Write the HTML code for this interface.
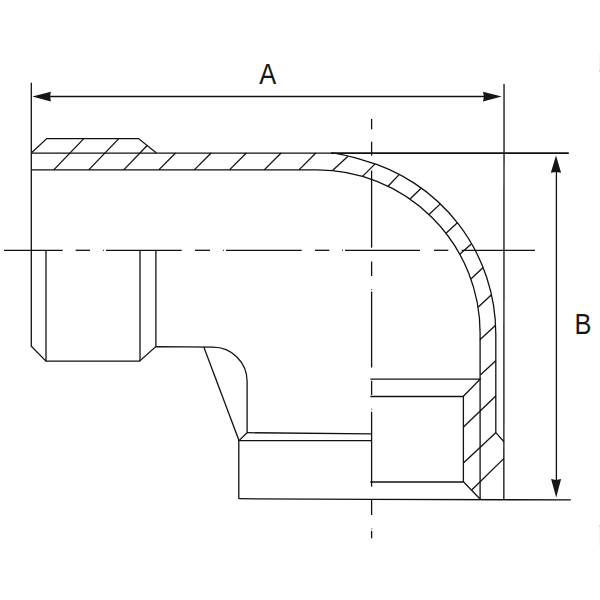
<!DOCTYPE html>
<html><head><meta charset="utf-8"><title>Elbow dimensions</title>
<style>
html,body{margin:0;padding:0;background:#fff;}
body{width:600px;height:600px;overflow:hidden;}
svg{display:block}
svg line, svg path{stroke:#111;stroke-width:1.3;fill:none;stroke-linecap:butt;stroke-linejoin:miter}
svg .thick{stroke-width:1.9}
svg .ar{fill:#161616;stroke:none}
svg text{font-family:"Liberation Sans",sans-serif;font-size:29.2px;fill:#161616}
</style></head><body>
<svg width="600" height="600" viewBox="0 0 600 600">
<rect width="600" height="600" fill="#fff" stroke="none"/>
<path d="M31.3,82.7 V346.2 L46,361.2 H139.5 L155.9,346.6 L213,347.2 A34.1,34.1 0 0 1 247.1,381.3 V432.7 L239,440.6"/>
<line x1="46.00" y1="250.30" x2="46.00" y2="361.20"/>
<line x1="140.00" y1="250.30" x2="140.00" y2="361.20"/>
<line x1="155.90" y1="250.30" x2="155.90" y2="346.60"/>
<line x1="203.80" y1="347.10" x2="239.00" y2="440.60"/>
<path d="M247,432.7 L371.6,433.8"/>
<path d="M371.6,440.7 H238.8 V498.7"/>
<path d="M31.3,153.05 L46.75,138.6 H138.5 L156.5,153.05"/>
<path d="M31.3,153.05 H331 C341,153.05 351.66,157.10 362,159.85 A180.1,180.1 0 0 1 495.79999999999995,333.9 V432.6 L504,441.8"/>
<path d="M31.3,169.90000000000003 H316.9 A163.2,163.2 0 0 1 480.09999999999997,333.1 V499.3"/>
<path d="M370.3,379.2 H480.09999999999997 L463.4,396.3"/>
<path d="M370.3,396.5 H463.4 V481.8 L480.5,499.5"/>
<line x1="370.30" y1="482.00" x2="463.40" y2="482.00"/>
<path d="M504.05,84 L503.85,499.8"/>
<line x1="331.00" y1="153.10" x2="568.80" y2="153.10" class="thick"/>
<path d="M238.8,498.7 L372,499.4 L570.8,499.9"/>
<line x1="40.00" y1="96.50" x2="495.00" y2="96.50"/>
<line x1="556.40" y1="165.00" x2="556.40" y2="485.00"/>
<line x1="53.75" y1="169.90" x2="83.80" y2="138.60"/>
<line x1="88.75" y1="169.90" x2="118.80" y2="138.60"/>
<line x1="123.75" y1="169.90" x2="147.14" y2="145.54"/>
<line x1="158.75" y1="169.90" x2="175.60" y2="153.05"/>
<line x1="194.30" y1="169.90" x2="211.15" y2="153.05"/>
<line x1="229.50" y1="169.90" x2="246.35" y2="153.05"/>
<line x1="264.25" y1="169.90" x2="281.10" y2="153.05"/>
<line x1="299.00" y1="169.90" x2="315.85" y2="153.05"/>
<line x1="332.50" y1="170.50" x2="348.00" y2="156.25"/>
<line x1="362.47" y1="176.39" x2="375.11" y2="163.88"/>
<line x1="388.09" y1="186.24" x2="399.35" y2="174.41"/>
<line x1="409.97" y1="199.04" x2="421.39" y2="188.07"/>
<line x1="429.00" y1="214.49" x2="440.32" y2="203.88"/>
<line x1="446.00" y1="233.27" x2="457.39" y2="222.73"/>
<line x1="459.77" y1="254.21" x2="471.61" y2="243.74"/>
<line x1="470.90" y1="279.09" x2="483.08" y2="267.43"/>
<line x1="478.04" y1="307.23" x2="491.47" y2="294.66"/>
<line x1="479.90" y1="339.70" x2="495.60" y2="325.31"/>
<line x1="480.30" y1="375.00" x2="496.00" y2="360.60"/>
<line x1="463.50" y1="427.00" x2="496.00" y2="395.80"/>
<line x1="463.40" y1="463.00" x2="496.00" y2="432.60"/>
<line x1="471.70" y1="490.00" x2="504.00" y2="458.40"/>
<line x1="4.00" y1="250.30" x2="62.70" y2="250.30"/>
<line x1="75.70" y1="250.30" x2="90.00" y2="250.30"/>
<line x1="103.20" y1="250.30" x2="104.00" y2="250.30"/>
<line x1="106.00" y1="250.30" x2="181.70" y2="250.30"/>
<line x1="195.00" y1="250.30" x2="210.00" y2="250.30"/>
<line x1="223.20" y1="250.30" x2="224.00" y2="250.30"/>
<line x1="226.00" y1="250.30" x2="301.70" y2="250.30"/>
<line x1="315.00" y1="250.30" x2="329.30" y2="250.30"/>
<line x1="342.20" y1="250.30" x2="343.00" y2="250.30"/>
<line x1="345.00" y1="250.30" x2="420.00" y2="250.30"/>
<line x1="434.00" y1="250.30" x2="448.30" y2="250.30"/>
<line x1="461.70" y1="250.30" x2="535.00" y2="250.30"/>
<line x1="371.60" y1="119.00" x2="371.60" y2="129.30"/>
<line x1="371.60" y1="141.70" x2="371.60" y2="155.60"/>
<line x1="371.60" y1="170.60" x2="371.60" y2="247.70"/>
<line x1="371.60" y1="261.50" x2="371.60" y2="276.00"/>
<line x1="371.60" y1="289.30" x2="371.60" y2="290.00"/>
<line x1="371.60" y1="291.50" x2="371.60" y2="367.50"/>
<line x1="371.60" y1="380.80" x2="371.60" y2="395.00"/>
<line x1="371.60" y1="408.70" x2="371.60" y2="409.40"/>
<line x1="371.60" y1="411.70" x2="371.60" y2="486.70"/>
<line x1="371.60" y1="499.30" x2="371.60" y2="515.00"/>
<line x1="371.60" y1="528.60" x2="371.60" y2="529.30"/>
<line x1="371.60" y1="530.80" x2="371.60" y2="538.30"/>
<polygon points="32.30,96.50 50.90,91.70 50.10,96.50 50.90,101.40" class="ar"/>
<polygon points="501.70,96.50 483.00,91.70 483.90,96.50 483.00,101.50" class="ar"/>
<polygon points="556.00,155.60 550.80,172.80 556.20,172.00 561.10,172.80" class="ar"/>
<polygon points="556.20,497.40 551.10,479.00 556.20,479.90 561.10,479.00" class="ar"/>
<rect x="599" y="54" width="1" height="16" fill="#f3f3f3"/><rect x="599" y="70" width="1" height="2" fill="#d8d8d8"/><rect x="599" y="525" width="1" height="1.5" fill="#d0d0d0"/><rect x="599" y="526.5" width="1" height="19" fill="#f3f3f3"/>
<text transform="translate(267.7,84.4) scale(0.87,1)" text-anchor="middle">A</text>
<text transform="translate(582.9,333.9) scale(0.87,1)" text-anchor="middle">B</text>
</svg>
</body></html>
